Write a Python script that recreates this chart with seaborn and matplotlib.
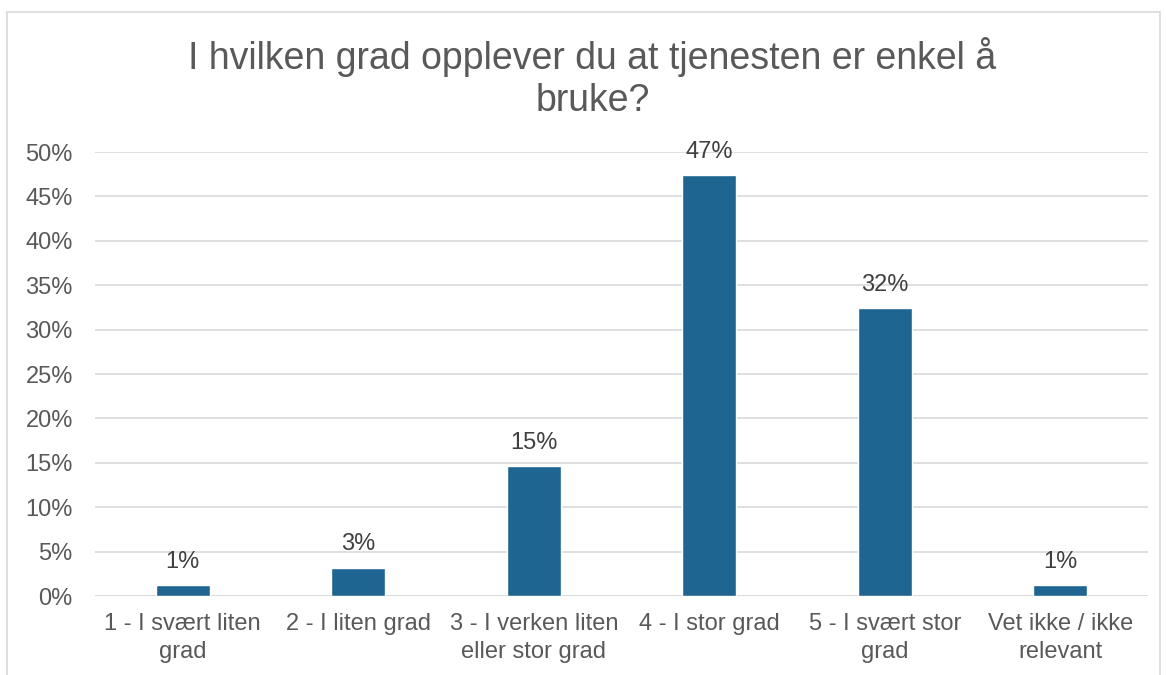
import numpy as np
import pandas as pd
import seaborn as sns
import matplotlib.pyplot as plt
from matplotlib.patches import Rectangle

categories = ["1 - I svært liten\ngrad", "2 - I liten grad", "3 - I verken liten\neller stor grad",
              "4 - I stor grad", "5 - I svært stor\ngrad", "Vet ikke / ikke\nrelevant"]
values = [1.2, 3.2, 14.6, 47.4, 32.4, 1.2]
yticks = [0, 5, 10, 15, 20, 25, 30, 35, 40, 45, 50]

df = pd.DataFrame({"kategori": categories, "andel": values})

sns.set_theme(style="white")
plt.rcParams['font.family'] = ['Liberation Sans', 'DejaVu Sans']
grey = "#595959"

fig = plt.figure(figsize=(11.66, 6.75), dpi=100)
ax = fig.add_axes([0.0815, 0.117, 0.9031, 0.6578])

sns.barplot(data=df, x="kategori", y="andel", color="#1f6591", width=0.31,
            saturation=1, ax=ax, zorder=3)
ax.set_ylim(0, 50)
ax.set_xlim(-0.5, 5.5)
ax.set_yticks(yticks)
ax.set_yticklabels([f"{t}%" for t in yticks])
ax.yaxis.grid(True, color="#d9d9d9", linewidth=1.2, zorder=0)
ax.tick_params(axis="both", length=0, colors=grey, labelsize=17)
ax.tick_params(axis="y", pad=16)
ax.tick_params(axis="x", pad=12)
for lbl in ax.get_xticklabels():
    lbl.set_linespacing(1.35)
ax.set_xlabel("")
ax.set_ylabel("")
for s in ax.spines.values():
    s.set_visible(False)
ax.axhline(0, color="#d9d9d9", linewidth=1.2, zorder=1)

ax.bar_label(ax.containers[0], labels=[f"{v:.0f}%" for v in values],
             padding=9, color="#404040", fontsize=17)

fig.text(0.508, 0.945, "I hvilken grad opplever du at tjenesten er enkel å\nbruke?",
         ha="center", va="top", fontsize=27, color=grey, linespacing=1.2)

fig.patches.append(Rectangle((7 / 1166, -0.05), 1153 / 1166, 1 - 12 / 675 + 0.05,
                             transform=fig.transFigure, fill=False,
                             edgecolor="#d9d9d9", linewidth=1.2))

fig.savefig("out.png", dpi=100)
